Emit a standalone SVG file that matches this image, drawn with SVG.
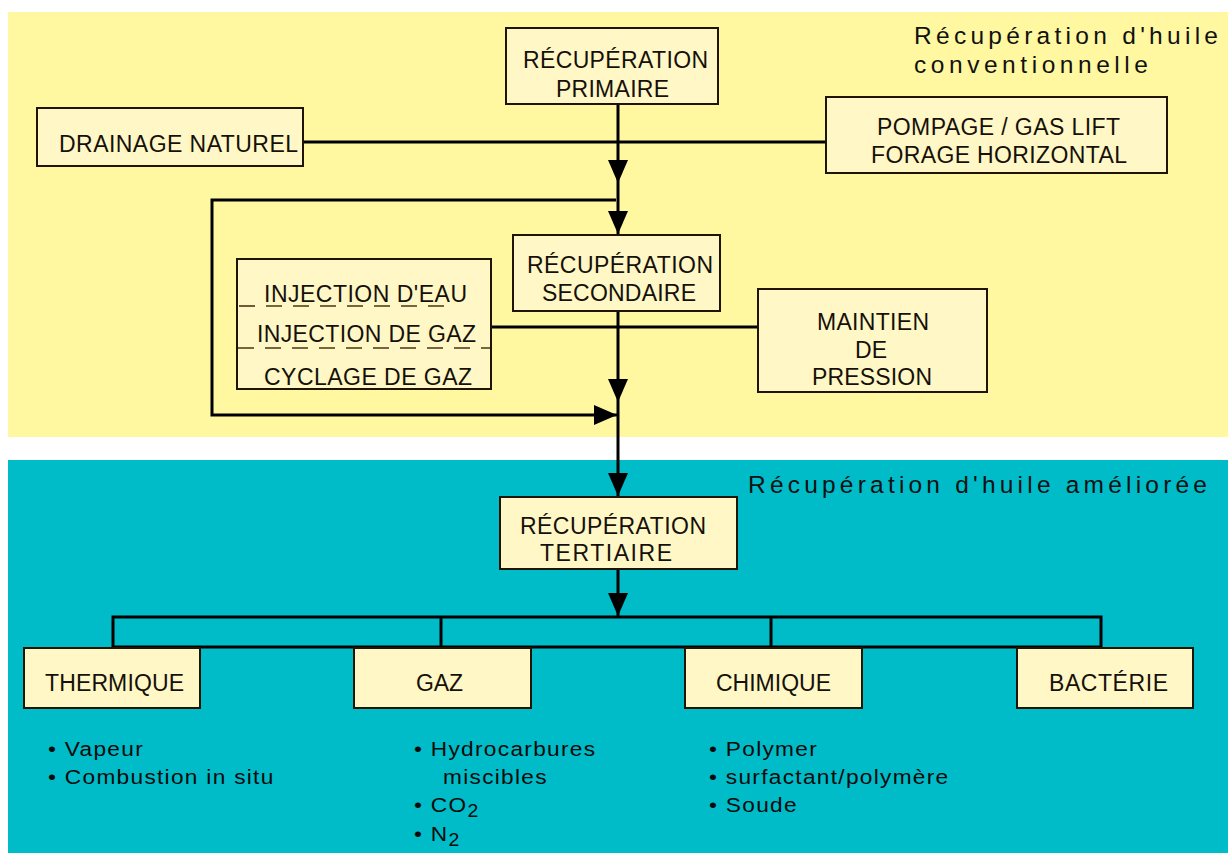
<svg xmlns="http://www.w3.org/2000/svg" width="1228" height="853" viewBox="0 0 1228 853">
<style>
.box{fill:#FFF8C6;stroke:#1e1505;stroke-width:2}
.lbl{font-family:"Liberation Sans",Arial,sans-serif;font-size:23px;fill:#16100a}
.ttl{font-family:"Liberation Sans",Arial,sans-serif;font-size:24.5px;fill:#111}
.bul{font-family:"Liberation Sans",Arial,sans-serif;font-size:21px;letter-spacing:1.2px;fill:#0a0a0a}
.ln{fill:none;stroke:#000;stroke-width:3}
.dash{fill:none;stroke:#4a3410;stroke-width:1.6;stroke-dasharray:16 11}
</style>
<defs>
<marker id="ah" markerUnits="userSpaceOnUse" markerWidth="23" markerHeight="20" viewBox="0 0 23 20" refX="23" refY="10" orient="auto">
<path d="M0,0 L23,10 L0,20 z" fill="#000"/>
</marker>
</defs>
<rect width="1228" height="853" fill="#fff"/>
<g id="panel-conventionnelle">
<rect x="8" y="12" width="1220" height="425" fill="#FFF8A0"/>
<text class="ttl" x="914" y="44" textLength="304" lengthAdjust="spacing">Récupération d'huile</text>
<text class="ttl" x="914" y="73" textLength="234" lengthAdjust="spacing">conventionnelle</text>
</g>
<g id="panel-amelioree">
<rect x="8" y="460" width="1220" height="393" fill="#00BBC8"/>
<text class="ttl" x="748" y="493" textLength="459" lengthAdjust="spacing">Récupération d'huile améliorée</text>
</g>
<g id="connectors">
<line class="ln" x1="303" y1="142" x2="826" y2="142"/>
<line class="ln" x1="618" y1="104" x2="618" y2="183" marker-end="url(#ah)"/>
<line class="ln" x1="618" y1="183" x2="618" y2="234" marker-end="url(#ah)"/>
<path class="ln" d="M616,200 H212 V415 H617" marker-end="url(#ah)"/>
<line class="ln" x1="491" y1="327" x2="758" y2="327"/>
<line class="ln" x1="618" y1="311" x2="618" y2="402" marker-end="url(#ah)"/>
<line class="ln" x1="618" y1="402" x2="618" y2="496" marker-end="url(#ah)"/>
<line class="ln" x1="618" y1="569" x2="618" y2="616" marker-end="url(#ah)"/>
<rect class="ln" x="113" y="617" width="988" height="30"/>
<line class="ln" x1="441" y1="617" x2="441" y2="647"/>
<line class="ln" x1="771" y1="617" x2="771" y2="647"/>
</g>
<g id="n-primaire">
<rect class="box" x="506" y="28" width="212" height="76"/>
<text class="lbl" x="523" y="68" textLength="185" lengthAdjust="spacing">RÉCUPÉRATION</text>
<text class="lbl" x="556" y="97" textLength="113" lengthAdjust="spacing">PRIMAIRE</text>
</g>
<g id="n-drainage">
<rect class="box" x="37" y="108" width="266" height="58"/>
<text class="lbl" x="59" y="152" textLength="239" lengthAdjust="spacing">DRAINAGE NATUREL</text>
</g>
<g id="n-pompage">
<rect class="box" x="826" y="97" width="341" height="76"/>
<text class="lbl" x="877" y="135" textLength="243" lengthAdjust="spacing">POMPAGE / GAS LIFT</text>
<text class="lbl" x="871" y="163" textLength="256" lengthAdjust="spacing">FORAGE HORIZONTAL</text>
</g>
<g id="n-secondaire">
<rect class="box" x="513" y="235" width="207" height="76"/>
<text class="lbl" x="527" y="273" textLength="186" lengthAdjust="spacing">RÉCUPÉRATION</text>
<text class="lbl" x="542" y="301" textLength="154" lengthAdjust="spacing">SECONDAIRE</text>
</g>
<g id="n-injection">
<rect class="box" x="237" y="259" width="254" height="130"/>
<line class="dash" x1="239" y1="306" x2="452" y2="306"/>
<line class="dash" x1="238" y1="348" x2="490" y2="348"/>
<text class="lbl" x="264" y="302" textLength="203" lengthAdjust="spacing">INJECTION D'EAU</text>
<text class="lbl" x="257" y="342" textLength="219" lengthAdjust="spacing">INJECTION DE GAZ</text>
<text class="lbl" x="264" y="385" textLength="208" lengthAdjust="spacing">CYCLAGE DE GAZ</text>
</g>
<g id="n-maintien">
<rect class="box" x="758" y="289" width="229" height="103"/>
<text class="lbl" x="817" y="330" textLength="112" lengthAdjust="spacing">MAINTIEN</text>
<text class="lbl" x="855" y="358" textLength="32" lengthAdjust="spacing">DE</text>
<text class="lbl" x="812" y="385" textLength="120" lengthAdjust="spacing">PRESSION</text>
</g>
<g id="n-tertiaire">
<rect class="box" x="500" y="497" width="237" height="72"/>
<text class="lbl" x="520" y="534" textLength="186" lengthAdjust="spacing">RÉCUPÉRATION</text>
<text class="lbl" x="540" y="561" textLength="132" lengthAdjust="spacing">TERTIAIRE</text>
</g>
<g id="n-thermique">
<rect class="box" x="24" y="648" width="176" height="60"/>
<text class="lbl" x="45" y="691" textLength="139" lengthAdjust="spacing">THERMIQUE</text>
<text class="bul" transform="matrix(1.08,0,0,1,48,756)">• Vapeur</text>
<text class="bul" transform="matrix(1.08,0,0,1,48,784)">• Combustion in situ</text>
</g>
<g id="n-gaz">
<rect class="box" x="354" y="648" width="177" height="60"/>
<text class="lbl" x="416" y="691" textLength="47" lengthAdjust="spacing">GAZ</text>
<text class="bul" transform="matrix(1.08,0,0,1,414,756)">• Hydrocarbures</text>
<text class="bul" transform="matrix(1.08,0,0,1,443,784)">miscibles</text>
<text class="bul" transform="matrix(1.08,0,0,1,414,812)">• CO<tspan font-size="18" dy="5">2</tspan></text>
<text class="bul" transform="matrix(1.08,0,0,1,414,841)">• N<tspan font-size="18" dy="5">2</tspan></text>
</g>
<g id="n-chimique">
<rect class="box" x="685" y="648" width="177" height="60"/>
<text class="lbl" x="716" y="691" textLength="115" lengthAdjust="spacing">CHIMIQUE</text>
<text class="bul" transform="matrix(1.08,0,0,1,709,756)">• Polymer</text>
<text class="bul" transform="matrix(1.08,0,0,1,709,784)">• surfactant/polymère</text>
<text class="bul" transform="matrix(1.08,0,0,1,709,812)">• Soude</text>
</g>
<g id="n-bacterie">
<rect class="box" x="1017" y="648" width="176" height="60"/>
<text class="lbl" x="1049" y="691" textLength="119" lengthAdjust="spacing">BACTÉRIE</text>
</g>
</svg>
